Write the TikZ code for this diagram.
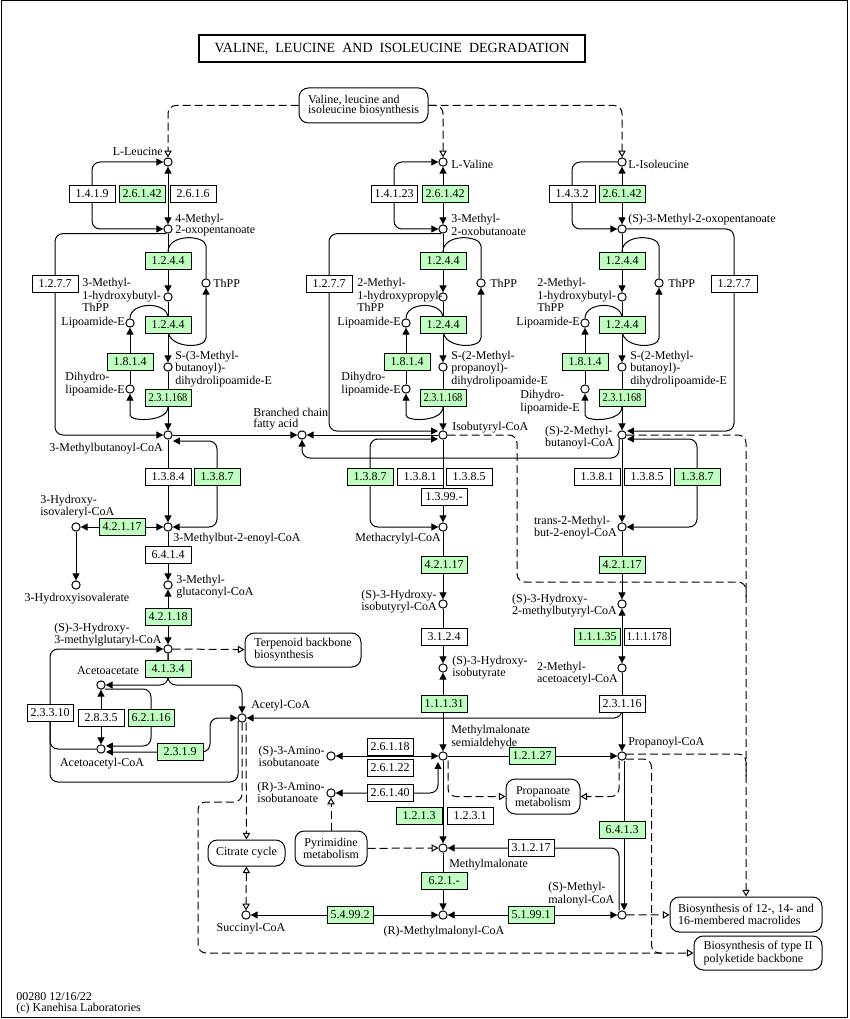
\documentclass[tikz,border=0pt]{standalone}
\usepackage{fontspec}
\setmainfont{Liberation Serif}
\usetikzlibrary{arrows.meta,calc}
\pgfdeclarelayer{bg}
\pgfsetlayers{bg,main}
\definecolor{kgreen}{HTML}{BFFFBF}
\tikzset{
 lf/.style={font=\fontsize{9}{8}\selectfont},
 cpd/.style={circle,draw,fill=white,minimum size=6.2pt,inner sep=0pt,line width=0.75pt},
 enz/.style={rectangle,draw,fill=white,minimum width=34.5pt,minimum height=12.75pt,inner sep=0pt,line width=0.75pt,lf},
 genz/.style={enz,fill=kgreen},
 lbl/.style={inner sep=0pt,lf,align=left},
 mapn/.style={draw,rounded corners=7pt,fill=white,inner sep=0pt,line width=0.75pt,lf},
 conn/.style={line width=0.75pt,rounded corners=6pt},
 dconn/.style={conn,dash pattern=on 6pt off 3pt},
 oarr/.style={-{Triangle[open,length=5pt,width=5.5pt,fill=white]}},
 boarr/.style={{Triangle[open,length=5pt,width=5.5pt,fill=white]}-{Triangle[open,length=5pt,width=5.5pt,fill=white]}},
 >={Triangle[length=5.2pt,width=5.2pt]},
}
\begin{document}
\begin{tikzpicture}[x=0.75pt,y=-0.75pt]
\useasboundingbox (0,0) rectangle (849,1019);
\draw[line width=0.75pt] (1,1) rectangle (847.5,1017.5);

% title
\node[draw,line width=1.5pt,minimum width=289.5pt,minimum height=20.25pt,inner sep=0pt,font=\fontsize{10.5}{12}\selectfont] (title) at (392,48.5) {VALINE,\ \ LEUCINE\ \ AND\ \ ISOLEUCINE\ \ DEGRADATION};

% map nodes
\node[mapn,minimum width=96.75pt,minimum height=26.25pt,align=left] (vbio) at (363.5,105.5) {Valine, leucine and\\isoleucine biosynthesis};
\node[mapn,minimum width=87pt,minimum height=25.5pt,align=left] (terp) at (303,650) {Terpenoid backbone\\biosynthesis};
\node[mapn,minimum width=55.5pt,minimum height=26.25pt,align=center] (propm) at (543,796.5) {Propanoate\\metabolism};
\node[mapn,minimum width=54pt,minimum height=26.25pt,align=center] (pyr) at (331,848.5) {Pyrimidine\\metabolism};
\node[mapn,minimum width=57.75pt,minimum height=19.5pt] (citr) at (246.5,853) {Citrate cycle};
\node[mapn,minimum width=114pt,minimum height=26.25pt,align=left] (macro) at (746,914.5) {Biosynthesis of 12-, 14- and\\16-membered macrolides};
\node[mapn,minimum width=96pt,minimum height=25.5pt,align=left] (pk2) at (758,953) {Biosynthesis of type II\\polyketide backbone};

% compounds left
\node[cpd] (leu) at (168,162) {};
\node[cpd] (m4o) at (168,229) {};
\node[cpd] (mhb) at (168,297) {};
\node[cpd] (thppL) at (206,283) {};
\node[cpd] (lipL) at (130,323) {};
\node[cpd] (smb) at (168,367) {};
\node[cpd] (dhlL) at (130,389) {};
\node[cpd] (mbcoa) at (168,435) {};
\node[cpd] (mb2e) at (168,527) {};
\node[cpd] (hivcoa) at (76,527) {};
\node[cpd] (hiv) at (76,585) {};
\node[cpd] (mgc) at (168,585) {};
\node[cpd] (hmg) at (168,649) {};
\node[cpd] (aca) at (101,685) {};
\node[cpd] (acacoa) at (101,749) {};
\node[cpd] (accoa) at (242,718) {};
% compounds middle
\node[cpd] (val) at (443,162) {};
\node[cpd] (m2ob) at (443,229) {};
\node[cpd] (mhp) at (443,297) {};
\node[cpd] (thppM) at (481,283) {};
\node[cpd] (lipM) at (406,323) {};
\node[cpd] (smp) at (443,367) {};
\node[cpd] (dhlM) at (406,389) {};
\node[cpd] (ibcoa) at (443,435) {};
\node[cpd] (bcfa) at (302,435) {};
\node[cpd] (mac) at (443,527) {};
\node[cpd] (hibcoa) at (443,604) {};
\node[cpd] (hib) at (443,668) {};
\node[cpd] (mms) at (443,756) {};
\node[cpd] (saib) at (331,756) {};
\node[cpd] (raib) at (331,793) {};
\node[cpd] (mma) at (443,848) {};
\node[cpd] (rmmcoa) at (443,915) {};
\node[cpd] (succoa) at (246,915) {};
\node[cpd] (ppcoa) at (622,756) {};
\node[cpd] (smmcoa) at (622,915) {};
% compounds right
\node[cpd] (ile) at (622,162) {};
\node[cpd] (sm2o) at (622,229) {};
\node[cpd] (mhbR) at (622,297) {};
\node[cpd] (thppR) at (659,283) {};
\node[cpd] (lipR) at (585,323) {};
\node[cpd] (smbR) at (622,367) {};
\node[cpd] (dhlR) at (585,389) {};
\node[cpd] (s2mb) at (622,435) {};
\node[cpd] (t2mb) at (622,527) {};
\node[cpd] (h2mb) at (622,604) {};
\node[cpd] (mac2) at (622,668) {};

% labels left
\node[lbl,anchor=east] (tleu) at (163,152) {L-Leucine};
\node[lbl,anchor=west] (tm4o) at (175,225) {4-Methyl-\\2-oxopentanoate};
\node[lbl,anchor=west] (tmhb) at (82,295) {3-Methyl-\\1-hydroxybutyl-\\ThPP};
\node[lbl,anchor=west] (tthppL) at (213,283) {ThPP};
\node[lbl,anchor=east] (tlipL) at (125,323) {Lipoamide-E};
\node[lbl,anchor=west] (tsmb) at (175,369) {S-(3-Methyl-\\butanoyl)-\\dihydrolipoamide-E};
\node[lbl,anchor=east] (tdhlL) at (125,384) {Dihydro-\\lipoamide-E};
\node[lbl,anchor=east] (tmbcoa) at (163,449) {3-Methylbutanoyl-CoA};
\node[lbl,anchor=west] (thivcoa) at (40,507) {3-Hydroxy-\\isovaleryl-CoA};
\node[lbl] (thiv) at (77,599) {3-Hydroxyisovalerate};
\node[lbl,anchor=west] (tmb2e) at (173,539) {3-Methylbut-2-enoyl-CoA};
\node[lbl,anchor=west] (tmgc) at (176,587) {3-Methyl-\\glutaconyl-CoA};
\node[lbl,anchor=west] (thmg) at (54,635) {(S)-3-Hydroxy-\\3-methylglutaryl-CoA};
\node[lbl] (taca) at (108,671) {Acetoacetate};
\node[lbl] (tacacoa) at (102,764) {Acetoacetyl-CoA};
\node[lbl,anchor=west] (taccoa) at (251,706) {Acetyl-CoA};
% labels middle
\node[lbl,anchor=west] (tval) at (451,164) {L-Valine};
\node[lbl,anchor=west] (tm2ob) at (451,225) {3-Methyl-\\2-oxobutanoate};
\node[lbl,anchor=west] (tmhp) at (357,295) {2-Methyl-\\1-hydroxypropyl-\\ThPP};
\node[lbl,anchor=west] (tthppM) at (490,283) {ThPP};
\node[lbl,anchor=east] (tlipM) at (401,323) {Lipoamide-E};
\node[lbl,anchor=west] (tsmp) at (451,369) {S-(2-Methyl-\\propanoyl)-\\dihydrolipoamide-E};
\node[lbl,anchor=east] (tdhlM) at (401,384) {Dihydro-\\lipoamide-E};
\node[lbl,anchor=west] (tibcoa) at (452,428) {Isobutyryl-CoA};
\node[lbl,anchor=west] (tbcfa) at (253,419) {Branched chain\\fatty acid};
\node[lbl,anchor=east] (tmac) at (441,539) {Methacrylyl-CoA};
\node[lbl,anchor=east] (thibcoa) at (437,602) {(S)-3-Hydroxy-\\isobutyryl-CoA};
\node[lbl,anchor=west] (thib) at (452,668) {(S)-3-Hydroxy-\\isobutyrate};
\node[lbl,anchor=west] (tmms) at (451,737) {Methylmalonate\\semialdehyde};
\node[lbl,anchor=east] (tsaib) at (325,756) {(S)-3-Amino-\\isobutanoate};
\node[lbl,anchor=east] (traib) at (325,792) {(R)-3-Amino-\\isobutanoate};
\node[lbl,anchor=west] (tmma) at (449,865) {Methylmalonate};
\node[lbl] (trmmcoa) at (444,932) {(R)-Methylmalonyl-CoA};
\node[lbl] (tsuccoa) at (251,929) {Succinyl-CoA};
\node[lbl,anchor=west] (tppcoa) at (628,743) {Propanoyl-CoA};
\node[lbl,anchor=west] (tsmmcoa) at (548,894) {(S)-Methyl-\\malonyl-CoA};
% labels right
\node[lbl,anchor=west] (tile) at (628,164) {L-Isoleucine};
\node[lbl,anchor=west] (tsm2o) at (628,220) {(S)-3-Methyl-2-oxopentanoate};
\node[lbl,anchor=west] (tmhbR) at (537,295) {2-Methyl-\\1-hydroxybutyl-\\ThPP};
\node[lbl,anchor=west] (tthppR) at (668,283) {ThPP};
\node[lbl,anchor=east] (tlipR) at (580,323) {Lipoamide-E};
\node[lbl,anchor=west] (tsmbR) at (630,369) {S-(2-Methyl-\\butanoyl)-\\dihydrolipoamide-E};
\node[lbl,anchor=east] (tdhlR) at (580,402) {Dihydro-\\lipoamide-E};
\node[lbl,anchor=east] (ts2mb) at (614,438) {(S)-2-Methyl-\\butanoyl-CoA};
\node[lbl,anchor=east] (tt2mb) at (617,528) {trans-2-Methyl-\\but-2-enoyl-CoA};
\node[lbl,anchor=east] (th2mb) at (617,606) {(S)-3-Hydroxy-\\2-methylbutyryl-CoA};
\node[lbl,anchor=east] (tmac2) at (618,674) {2-Methyl-\\acetoacetyl-CoA};

% enzymes left
\node[enz] (e1419) at (92,194) {1.4.1.9};
\node[genz] (e26142a) at (142,194) {2.6.1.42};
\node[enz] (e2616) at (193,194) {2.6.1.6};
\node[genz] (e1244a) at (168,261) {1.2.4.4};
\node[genz] (e1244b) at (168,325) {1.2.4.4};
\node[genz] (e1814a) at (130,362) {1.8.1.4};
\node[genz] (e231168a) at (168,398) {\scalebox{0.86}[1]{2.3.1.168}};
\node[enz] (e1277a) at (55,284) {1.2.7.7};
\node[enz] (e1384) at (168,477) {1.3.8.4};
\node[genz] (e1387a) at (217,477) {1.3.8.7};
\node[genz] (e42117a) at (122,527) {4.2.1.17};
\node[enz] (e6414) at (168,555) {6.4.1.4};
\node[genz] (e42118) at (168,617) {4.2.1.18};
\node[genz] (e4134) at (168,669) {4.1.3.4};
\node[enz] (e23310) at (50,713) {2.3.3.10};
\node[enz] (e2835) at (101,718) {2.8.3.5};
\node[genz] (e62116) at (151,718) {6.2.1.16};
\node[genz] (e2319) at (180,752) {2.3.1.9};
% enzymes middle
\node[enz] (e14123) at (394,194) {1.4.1.23};
\node[genz] (e26142b) at (445,194) {2.6.1.42};
\node[genz] (e1244c) at (443,261) {1.2.4.4};
\node[genz] (e1244d) at (443,325) {1.2.4.4};
\node[genz] (e1814b) at (407,362) {1.8.1.4};
\node[genz] (e231168b) at (443,398) {\scalebox{0.86}[1]{2.3.1.168}};
\node[enz] (e1277b) at (329,284) {1.2.7.7};
\node[genz] (e1387b) at (370,477) {1.3.8.7};
\node[enz] (e1381a) at (420,477) {1.3.8.1};
\node[enz] (e1385a) at (469,477) {1.3.8.5};
\node[enz] (e1399) at (444,497) {1.3.99.-};
\node[genz] (e42117b) at (444,565) {4.2.1.17};
\node[enz] (e3124) at (444,637) {3.1.2.4};
\node[genz] (e11131) at (444,704) {1.1.1.31};
\node[enz] (e26118) at (390,747) {2.6.1.18};
\node[enz] (e26122) at (390,768) {2.6.1.22};
\node[enz] (e26140) at (390,793) {2.6.1.40};
\node[genz] (e12127) at (532,756) {1.2.1.27};
\node[genz] (e1213) at (419,816) {1.2.1.3};
\node[enz] (e1231) at (470,816) {1.2.3.1};
\node[enz] (e31217) at (531,848) {3.1.2.17};
\node[genz] (e621) at (444,881) {6.2.1.-};
\node[genz] (e54992) at (350,915) {5.4.99.2};
\node[genz] (e51991) at (531,915) {5.1.99.1};
\node[genz] (e6413) at (622,830) {6.4.1.3};
% enzymes right
\node[enz] (e1432) at (572,194) {1.4.3.2};
\node[genz] (e26142c) at (622,194) {2.6.1.42};
\node[genz] (e1244e) at (622,261) {1.2.4.4};
\node[genz] (e1244f) at (622,325) {1.2.4.4};
\node[genz] (e1814c) at (585,362) {1.8.1.4};
\node[genz] (e231168c) at (622,398) {\scalebox{0.86}[1]{2.3.1.168}};
\node[enz] (e1277c) at (734,284) {1.2.7.7};
\node[enz] (e1381b) at (597,477) {1.3.8.1};
\node[enz] (e1385b) at (647,477) {1.3.8.5};
\node[genz] (e1387c) at (697,477) {1.3.8.7};
\node[genz] (e42117c) at (622,565) {4.2.1.17};
\node[genz] (e11135) at (597,637) {1.1.1.35};
\node[enz] (e111178) at (647,637) {\scalebox{0.9}[1]{1.1.1.178}};
\node[enz] (e23116) at (622,704) {2.3.1.16};

% footer
\node[lbl,anchor=west] (foot) at (16,1003) {00280 12/16/22\\(c) Kanehisa Laboratories};

\begin{pgfonlayer}{bg}
% ---- left column
\draw[conn,<->] (leu) -- (m4o);
\draw[conn,<->] (leu) -| (e1419.center) |- (m4o);
\draw[conn,->] (m4o) -- (mhb);
\draw[conn] ($(m4o)+(0,23)$) .. controls +(0,-19) and +(0,-19) .. ($(thppL)+(0,-29)$) -- (thppL);
\draw[conn,->] ($(mhb)+(0,33)$) .. controls +(0,19) and +(0,19) .. ($(thppL)+(0,47)$) -- (thppL);
\draw[conn,->] (mhb) -- (smb);
\draw[conn] (lipL.north) .. controls +(0,-17) and +(0,-17) .. ($(mhb)+(0,21)$);
\draw[conn,->] (dhlL) -- (lipL);
\draw[conn,->] (smb) -- (mbcoa);
\draw[conn,->] ($(smb)+(0,40)$) .. controls +(0,15) and +(0,15) .. ($(dhlL)+(0,18)$) -- (dhlL);
\draw[conn,->] ($(m4o.south)+(-2,0)$) -| (e1277a.center) |- (mbcoa);
\draw[conn,->] (mbcoa) -- (bcfa);
\draw[conn,->] (mbcoa) -- (mb2e);
\draw[conn,<->] ($(mbcoa)+(5,6)$) -| (e1387a.center) |- (mb2e);
\draw[conn,<->] (hivcoa) -- (mb2e);
\draw[conn,->] (hivcoa) -- (hiv);
\draw[conn,->] (mb2e) -- (mgc);
\draw[conn,<->] (mgc) -- (hmg);
\draw[dconn,oarr] (hmg) -- (terp);
\draw[conn,->] (hmg) |- (aca);
\draw[conn,->] (hmg) |- ($(accoa)+(0,-33)$) -- (accoa);
\draw[conn,<->] (aca) -- (acacoa);
\draw[conn,->] ($(aca)+(4,4)$) -| (e62116.center) |- ($(acacoa)+(5,-3)$);
\draw[conn,<->] ($(acacoa)+(5,3)$) -| ($(accoa)+(-32,0)$) -- (accoa);
\draw[conn,->] ($(accoa)+(-4,3)$) -- ($(accoa)+(-4,64)$) -| (e23310.center) |- (hmg);
\draw[conn] (e23310.center) |- (acacoa);
% ---- middle column
\draw[conn,<->] (val) -- (m2ob);
\draw[conn,<->] (val) -| (e14123.center) |- (m2ob);
\draw[conn,->] (m2ob) -- (mhp);
\draw[conn] ($(m2ob)+(0,23)$) .. controls +(0,-19) and +(0,-19) .. ($(thppM)+(0,-29)$) -- (thppM);
\draw[conn,->] ($(mhp)+(0,33)$) .. controls +(0,19) and +(0,19) .. ($(thppM)+(0,47)$) -- (thppM);
\draw[conn,->] (mhp) -- (smp);
\draw[conn] (lipM.north) .. controls +(0,-17) and +(0,-17) .. ($(mhp)+(0,21)$);
\draw[conn,->] (dhlM) -- (lipM);
\draw[conn,->] (smp) -- (ibcoa);
\draw[conn,->] ($(smp)+(0,40)$) .. controls +(0,15) and +(0,15) .. ($(dhlM)+(0,18)$) -- (dhlM);
\draw[conn,->] ($(m2ob.south)+(-2,0)$) -| (e1277b.center) |- ($(ibcoa)+(-5,-4)$);
\draw[conn,->] (ibcoa) -- (bcfa);
\draw[conn,->] (ibcoa) -- (mac);
\draw[conn,<->] ($(ibcoa)+(-5,4)$) -| (e1387b.center) |- (mac);
\draw[conn,->] (mac) -- (hibcoa);
\draw[conn,->] (hibcoa) -- (hib);
\draw[conn,<->] (hib) -- (mms);
\draw[conn,<->] (saib) -- (mms);
\draw[conn,<->] (raib) -| ($(mms)+(-5,6)$);
\draw[conn,->] (mms) -- (ppcoa);
\draw[conn,->] (mms) -- (mma);
\draw[conn,->] (mma) -- (rmmcoa);
\draw[conn,<->] (succoa) -- (rmmcoa);
\draw[conn,<->] (rmmcoa) -- (smmcoa);
\draw[conn,->] ($(smmcoa.north)+(-3,0)$) |- (mma);
\draw[conn,->] ($(ppcoa.south)+(2,0)$) -- ($(smmcoa.north)+(2,0)$);
\draw[conn,->] ($(mac2)+(0,40)$) |- (accoa);
% ---- right column
\draw[conn,<->] (ile) -- (sm2o);
\draw[conn,->] (ile) -| (e1432.center) |- (sm2o);
\draw[conn,->] (sm2o) -- (mhbR);
\draw[conn] ($(sm2o)+(0,23)$) .. controls +(0,-19) and +(0,-19) .. ($(thppR)+(0,-29)$) -- (thppR);
\draw[conn,->] ($(mhbR)+(0,33)$) .. controls +(0,19) and +(0,19) .. ($(thppR)+(0,47)$) -- (thppR);
\draw[conn,->] (mhbR) -- (smbR);
\draw[conn] (lipR.north) .. controls +(0,-17) and +(0,-17) .. ($(mhbR)+(0,21)$);
\draw[conn,->] (dhlR) -- (lipR);
\draw[conn,->] (smbR) -- (s2mb);
\draw[conn,->] ($(smbR)+(0,40)$) .. controls +(0,15) and +(0,15) .. ($(dhlR)+(0,18)$) -- (dhlR);
\draw[conn,->] (sm2o) -| (e1277c.center) |- ($(s2mb)+(5,-4)$);
\draw[conn,->] ($(s2mb)+(-3,4)$) |- ($(bcfa)+(0,23)$) -- (bcfa);
\draw[conn,->] (s2mb) -- (t2mb);
\draw[conn,<->] ($(s2mb)+(5,4)$) -| (e1387c.center) |- (t2mb);
\draw[conn,->] (t2mb) -- (h2mb);
\draw[conn,<->] (h2mb) -- (mac2);
\draw[conn,->] (mac2) -- (ppcoa);
% ---- dashed map links
\draw[dconn,oarr] (vbio.west) -| (leu);
\draw[dconn,oarr] (vbio.east) -| (val);
\draw[dconn,oarr] (vbio.east) -| (ile);
\draw[dconn,oarr] (s2mb) -| (macro.north);
\draw[dconn] (ibcoa) -| ($(ibcoa)+(74,147)$) -| ($(macro.north)+(0,-300)$);
\draw[dconn] ($(ppcoa)+(4,-2)$) -| ($(macro.north)+(0,-120)$);
\draw[dconn,oarr] ($(ppcoa.south)+(-3,0)$) |- (propm);
\draw[dconn,oarr] ($(mms.south)+(5,0)$) |- (propm);
\draw[dconn] ($(ppcoa)+(4,3)$) -| ($(pk2.west)+(-42,0)$) -- ($(pk2.west)+(-32,0)$);
\draw[dconn,oarr] (accoa.south) |- ($(accoa)+(-44,84)$) |- (pk2);
\draw[dconn,oarr] ($(accoa.south)+(4,0)$) -- (citr);
\draw[dconn,boarr] (citr) -- (succoa);
\draw[dconn,oarr] (pyr) -- (raib);
\draw[dconn,oarr] (pyr) -- (mma);
\draw[dconn,oarr] (smmcoa) -- (macro);
\end{pgfonlayer}
\end{tikzpicture}
\end{document}
